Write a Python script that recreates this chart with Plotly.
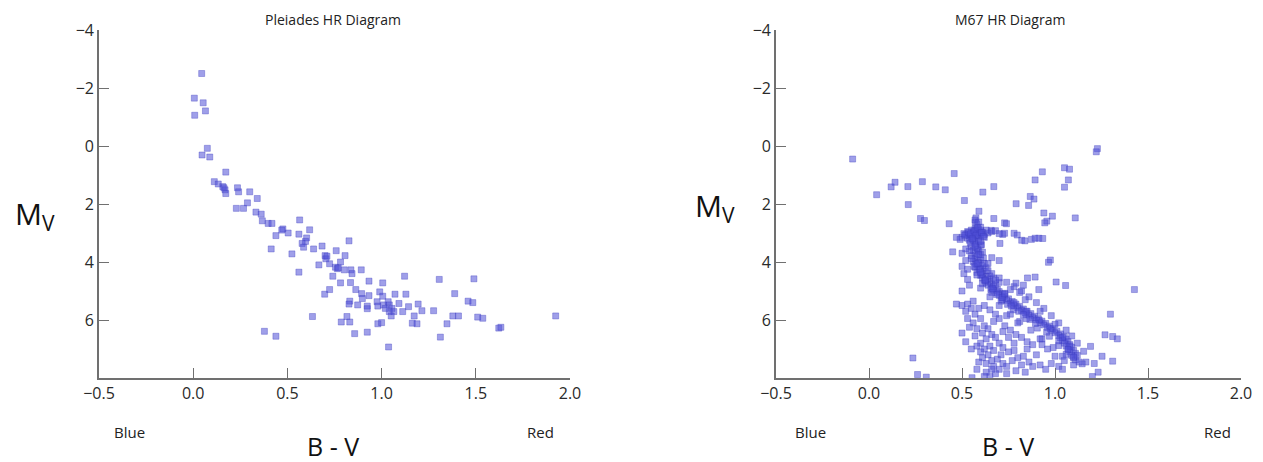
import plotly.graph_objects as go

# ---------------- Pleiades (B-V, Mv) ----------------
pleiades_bv = [0.045, 0.006, 0.053, 0.065, 0.008, 0.075, 0.047, 0.088, 0.173, 0.112,
               0.133, 0.157, 0.169, 0.173, 0.163, 0.235, 0.241, 0.30, 0.34, 0.229,
               0.267, 0.288, 0.333, 0.361, 0.367, 0.398, 0.418, 0.476, 0.504, 0.439,
               0.414, 0.565, 0.561, 0.618, 0.602, 0.596, 0.578, 0.586, 0.639, 0.684,
               0.524, 0.70, 0.704, 0.759, 0.806, 0.827, 0.667, 0.724, 0.755, 0.765,
               0.741, 0.782, 0.802, 0.837, 0.892, 0.561, 0.782, 0.835, 0.843, 0.933,
               1.006, 1.122, 1.306, 1.49, 0.698, 0.724, 0.863, 0.894, 0.933, 0.898,
               0.99, 1.006, 1.071, 1.129, 1.388, 1.459, 1.484, 0.831, 0.827, 0.873,
               0.924, 0.924, 0.976, 0.98, 1.01, 1.035, 1.041, 1.055, 1.041, 1.02,
               1.065, 1.092, 1.143, 1.112, 1.194, 1.214, 1.276, 1.173, 1.051, 1.378,
               1.408, 1.51, 1.537, 1.924, 0.633, 0.816, 0.786, 0.831, 0.98, 1.00,
               1.163, 1.188, 1.347, 1.622, 1.633, 0.378, 0.439, 0.857, 0.924, 1.312,
               1.037, 0.71, 0.77, 0.47]
pleiades_mv = [-2.50, -1.65, -1.49, -1.21, -1.06, 0.08, 0.31, 0.38, 0.90, 1.23,
               1.31, 1.40, 1.51, 1.64, 1.44, 1.44, 1.58, 1.58, 1.81, 2.15,
               2.15, 1.96, 2.28, 2.35, 2.58, 2.67, 2.67, 2.86, 3.00, 3.09,
               3.55, 2.55, 3.04, 2.89, 3.17, 3.29, 3.36, 3.49, 3.55, 3.45,
               3.72, 3.78, 3.89, 3.61, 3.78, 3.27, 4.10, 4.06, 4.18, 4.23,
               4.49, 4.00, 4.27, 4.27, 4.27, 4.35, 4.72, 4.71, 4.40, 4.66,
               4.72, 4.49, 4.60, 4.58, 5.11, 4.95, 4.95, 5.09, 5.16, 5.26,
               5.03, 5.18, 5.11, 5.11, 5.09, 5.35, 5.40, 5.35, 5.45, 5.48,
               5.52, 5.61, 5.37, 5.52, 5.48, 5.37, 5.48, 5.60, 5.71, 5.60,
               5.71, 5.43, 5.54, 5.71, 5.45, 5.68, 5.68, 5.86, 5.86, 5.86,
               5.86, 5.90, 5.94, 5.86, 5.88, 5.88, 6.07, 6.07, 6.13, 6.09,
               6.11, 6.13, 6.13, 6.28, 6.25, 6.39, 6.56, 6.47, 6.42, 6.59,
               6.93, 3.80, 4.20, 2.90]

# ---------------- M67 (B-V, Mv) ----------------
m67_bv = [
    # blue stragglers / giants / outliers
    -0.088, 0.041, 0.119, 0.14, 0.209, 0.211, 0.287, 0.359, 0.41, 0.458,
    0.277, 0.298, 0.431, 0.513, 0.612, 0.671, 0.791, 0.858, 0.867, 0.887,
    0.893, 0.932, 1.051, 1.078, 1.072, 1.051, 1.228, 1.222, 0.940, 0.986,
    0.956, 0.945, 1.109, 0.591, 0.575, 0.571, 0.671, 0.729, 0.739, 0.657,
    0.719, 0.729, 0.78, 0.797, 0.821, 0.838, 0.873, 0.893, 0.913, 0.934,
    0.704, 0.975, 0.965, 1.427, 1.298, 1.269, 1.310, 1.335, 1.310, 1.253,
    1.211, 1.232, 1.201, 1.191, 1.154, 1.166, 1.146, 1.006, 1.057, 0.236,
    0.261, 0.308, 0.554,
    # turnoff / subgiant clump
    0.50, 0.52, 0.53, 0.54, 0.55, 0.56, 0.57, 0.58, 0.59, 0.60,
    0.61, 0.62, 0.58, 0.56, 0.54, 0.57, 0.59, 0.63, 0.60, 0.58,
    0.57, 0.59, 0.60, 0.55, 0.53, 0.51, 0.64, 0.66, 0.68, 0.70,
    0.62, 0.47, 0.49, 0.565, 0.585, 0.575, 0.555, 0.595,
    0.515, 0.535, 0.545, 0.565, 0.575, 0.585, 0.605, 0.615,
    # main sequence ridge
    0.56, 0.59, 0.57, 0.60, 0.55, 0.58, 0.56, 0.59, 0.57, 0.60,
    0.55, 0.58, 0.57, 0.60, 0.56, 0.59, 0.58, 0.61, 0.57, 0.60,
    0.59, 0.62, 0.58, 0.61, 0.60, 0.63, 0.61, 0.64, 0.62, 0.65,
    0.63, 0.66, 0.64, 0.67, 0.66, 0.69, 0.67, 0.70, 0.69, 0.72,
    0.70, 0.73, 0.72, 0.75, 0.74, 0.77, 0.76, 0.79, 0.78, 0.81,
    0.80, 0.83, 0.82, 0.85, 0.84, 0.87, 0.86, 0.89, 0.88, 0.91,
    0.90, 0.93, 0.92, 0.95, 0.94, 0.97, 0.96, 0.99, 0.98, 1.01,
    1.00, 1.03, 1.02, 1.05, 1.03, 1.06, 1.04, 1.07, 1.05, 1.08,
    1.06, 1.09, 1.07, 1.10, 1.08, 1.11, 1.09, 1.10, 1.11, 0.585,
    0.575, 0.595, 0.605, 0.625, 0.655, 0.685, 0.715, 0.745, 0.805, 0.865,
    # ridge edges
    0.545, 0.605, 0.54, 0.61, 0.55, 0.615, 0.565, 0.63, 0.58, 0.65,
    0.61, 0.68, 0.66, 0.73, 0.71, 0.78, 0.775, 0.845, 0.845, 0.915,
    0.905, 0.975, 0.97, 1.04, 1.02, 1.08, 1.06, 1.12, 0.57, 0.59,
    0.585, 0.60, 0.625, 0.665, 0.715, 0.765, 0.83, 0.895, 0.955, 1.02,
    1.07, 1.10, 0.555, 0.60, 0.62, 0.64, 0.67, 0.70, 0.60, 0.65,
    0.70, 0.76, 0.81, 0.87, 0.93, 0.99, 1.04,
    # binary sequence and stars around the ridge
    0.66, 0.70, 0.74, 0.78, 0.82, 0.86, 0.90, 0.94, 0.98, 1.02,
    1.06, 1.09, 1.12, 0.68, 0.76, 0.84, 0.92, 1.00, 0.852, 0.893,
    0.913, 0.79, 0.83, 0.81, 0.73, 0.50, 0.52, 0.50, 0.51, 0.53,
    0.54, 0.50, 0.45, 0.53, 0.52, 0.64, 0.66, 0.70,
    # field stars below the sequence
    0.47, 0.50, 0.52, 0.55, 0.57, 0.53, 0.56, 0.60, 0.62, 0.58,
    0.61, 0.64, 0.66, 0.63, 0.60, 0.58, 0.62, 0.65, 0.67, 0.64,
    0.61, 0.59, 0.63, 0.66, 0.69, 0.72, 0.70, 0.74, 0.68, 0.65,
    0.58, 0.50, 0.55, 0.52, 0.68, 0.70, 0.72, 0.75, 0.78, 0.80,
    0.83, 0.86, 0.88, 0.92, 0.95, 0.98, 1.02, 1.05, 0.82, 0.77,
    0.73, 0.76, 0.79, 0.82, 0.85, 0.88, 0.80, 0.74, 0.70, 0.67,
    0.72, 0.68, 0.65, 0.62, 0.59, 0.56, 0.53, 0.93, 0.96, 0.90,
    0.85, 1.00, 0.78, 0.75, 0.92, 1.04, 1.10, 1.13, 0.57, 0.54,
    0.60, 0.67, 0.63, 0.66, 0.71, 0.74, 0.79, 0.84, 0.62]
m67_mv = [
    0.45, 1.68, 1.41, 1.25, 1.40, 2.02, 1.23, 1.41, 1.51, 0.95,
    2.50, 2.57, 2.68, 1.88, 1.59, 1.40, 1.99, 2.05, 1.74, 1.83,
    1.17, 0.89, 0.75, 0.80, 1.17, 1.42, 0.09, 0.20, 2.31, 2.42,
    2.59, 2.65, 2.48, 2.25, 2.48, 2.63, 2.50, 2.65, 2.68, 2.91,
    3.05, 3.01, 3.01, 3.07, 3.25, 3.27, 3.22, 3.18, 3.18, 3.19,
    3.36, 3.93, 4.01, 4.95, 5.80, 6.51, 6.57, 6.65, 7.42, 7.25,
    7.50, 7.80, 7.95, 6.91, 7.08, 7.45, 7.51, 4.69, 4.81, 7.31,
    7.88, 7.97, 7.99,
    3.15, 3.05, 2.95, 3.10, 2.90, 3.00, 2.85, 2.95, 2.88, 2.92,
    2.98, 3.05, 3.10, 3.20, 3.25, 3.30, 3.15, 2.90, 2.80, 2.70,
    2.55, 2.62, 3.05, 3.12, 3.18, 3.02, 3.00, 2.95, 2.92, 3.02,
    3.15, 3.15, 3.22, 2.97, 3.03, 2.90, 3.07, 2.99,
    3.08, 2.98, 3.03, 2.93, 3.08, 2.82, 2.98, 3.12,
    3.25, 3.30, 3.38, 3.42, 3.48, 3.52, 3.60, 3.63, 3.70, 3.74,
    3.78, 3.82, 3.90, 3.93, 3.98, 4.02, 4.10, 4.13, 4.18, 4.22,
    4.28, 4.32, 4.36, 4.40, 4.46, 4.50, 4.55, 4.58, 4.63, 4.68,
    4.72, 4.76, 4.80, 4.84, 4.90, 4.93, 4.98, 5.02, 5.07, 5.10,
    5.15, 5.18, 5.24, 5.27, 5.32, 5.36, 5.42, 5.45, 5.50, 5.53,
    5.58, 5.62, 5.67, 5.70, 5.75, 5.78, 5.83, 5.87, 5.92, 5.95,
    6.00, 6.04, 6.09, 6.12, 6.17, 6.21, 6.26, 6.30, 6.35, 6.39,
    6.44, 6.48, 6.53, 6.57, 6.62, 6.66, 6.71, 6.75, 6.80, 6.85,
    6.90, 6.94, 7.00, 7.05, 7.10, 7.15, 7.22, 7.30, 7.38, 3.56,
    4.06, 4.25, 4.43, 4.66, 4.95, 5.12, 5.30, 5.46, 5.70, 5.98,
    3.35, 3.40, 3.62, 3.66, 3.88, 3.86, 4.15, 4.20, 4.45, 4.48,
    4.75, 4.78, 5.05, 5.08, 5.35, 5.40, 5.65, 5.70, 5.95, 6.00,
    6.28, 6.30, 6.56, 6.60, 6.88, 6.90, 7.18, 7.22, 3.45, 3.75,
    4.05, 4.35, 4.62, 4.92, 5.22, 5.52, 5.82, 6.12, 6.42, 6.72,
    7.02, 7.28, 3.20, 3.28, 4.05, 4.30, 4.55, 4.70, 4.90, 5.20,
    5.50, 5.80, 6.05, 6.35, 6.65, 6.95, 7.25,
    4.40, 4.55, 4.70, 4.85, 5.00, 5.20, 5.40, 5.60, 5.85, 6.10,
    6.35, 6.55, 6.80, 4.62, 4.95, 5.30, 5.70, 6.15, 4.55, 4.52,
    4.95, 4.73, 4.80, 5.05, 5.10, 3.70, 3.95, 4.15, 4.40, 4.60,
    4.80, 5.00, 3.65, 4.25, 3.55, 4.05, 3.85, 3.95,
    5.45, 5.50, 5.70, 5.60, 5.80, 5.95, 6.10, 5.95, 6.20, 6.30,
    6.45, 6.30, 6.50, 6.65, 6.80, 6.90, 7.00, 6.90, 7.05, 7.20,
    7.30, 7.45, 7.50, 7.40, 7.35, 7.50, 7.70, 7.60, 7.85, 7.95,
    7.70, 6.45, 7.00, 6.75, 6.60, 6.80, 6.95, 7.10, 7.05, 7.30,
    7.25, 7.45, 7.60, 7.55, 7.70, 7.50, 7.60, 7.40, 7.55, 7.40,
    6.20, 6.35, 6.50, 6.60, 6.75, 6.85, 6.10, 5.85, 5.95, 6.05,
    6.40, 5.80, 5.65, 5.50, 5.60, 5.35, 5.45, 6.85, 7.00, 7.20,
    7.00, 7.25, 6.80, 6.60, 6.65, 7.70, 7.55, 7.45, 6.55, 6.25,
    7.10, 7.60, 7.80, 7.70, 7.20, 7.85, 7.75, 7.80, 7.95]

titles = ["Pleiades HR Diagram", "M67 HR Diagram"]
x_ticks = [-0.5, 0.0, 0.5, 1.0, 1.5, 2.0]
y_ticks = [-4, -2, 0, 2, 4, 6]

W, H = 1263, 462
OFF = 8  # page body margin
FONT = "Open Sans"
AX = "#707070"


def px(x):
    return (x - OFF) / W


def py(y):
    return 1 - (y - OFF) / H


marker = dict(symbol="square", size=6, color="rgba(80,80,215,0.55)",
              line=dict(width=0.6, color="rgba(60,60,190,0.6)"))

fig = go.Figure()
fig.add_trace(go.Scatter(x=pleiades_bv, y=pleiades_mv, mode="markers",
                         marker=marker, xaxis="x", yaxis="y", showlegend=False))
fig.add_trace(go.Scatter(x=m67_bv, y=m67_mv, mode="markers",
                         marker=marker, xaxis="x2", yaxis="y2", showlegend=False))

ydom = [py(378), py(30)]
tickfont = dict(family=FONT, size=16, color="#2a2a2a")
xcommon = dict(range=[-0.5, 2.0], tickvals=x_ticks, tickformat=".1f",
               ticks="inside", ticklen=10, tickcolor=AX, tickwidth=1.4,
               showline=True, linecolor=AX, linewidth=1.6, showgrid=False,
               zeroline=False, automargin=False, tickfont=tickfont)
ycommon = dict(range=[8, -4], tickvals=y_ticks,
               ticks="inside", ticklen=10, tickcolor=AX, tickwidth=1.4,
               showline=True, linecolor=AX, linewidth=1.6, showgrid=False,
               zeroline=False, automargin=False, tickfont=tickfont,
               domain=ydom)

fig.update_layout(
    width=W, height=H,
    margin=dict(l=0, r=0, t=0, b=0),
    paper_bgcolor="white", plot_bgcolor="white",
    xaxis=dict(domain=[px(99), px(570)], anchor="y", **xcommon),
    yaxis=dict(anchor="x", **ycommon),
    xaxis2=dict(domain=[px(776), px(1241)], anchor="y2", **xcommon),
    yaxis2=dict(anchor="x2", **ycommon),
)

ann = []
for cx, title in [(333, titles[0]), (1010, titles[1])]:
    ann.append(dict(x=px(cx), y=py(19), text=title,
                    font=dict(family=FONT, size=14, color="#222")))
for mx, my, bx, blx, rx in [(35, 215, 333, 130, 540), (715, 207, 1008, 810, 1217)]:
    ann.append(dict(x=px(mx), y=py(my), text="M<sub>V</sub>",
                    font=dict(family=FONT, size=30, color="#111")))
    ann.append(dict(x=px(bx), y=py(446), text="B - V",
                    font=dict(family=FONT, size=25, color="#111")))
    ann.append(dict(x=px(blx), y=py(432), text="Blue",
                    font=dict(family=FONT, size=15, color="#222")))
    ann.append(dict(x=px(rx), y=py(432), text="Red",
                    font=dict(family=FONT, size=15, color="#222")))
for a in ann:
    a.update(xref="paper", yref="paper", showarrow=False,
             xanchor="center", yanchor="middle")
fig.update_layout(annotations=ann)

fig.write_html("out.html")
